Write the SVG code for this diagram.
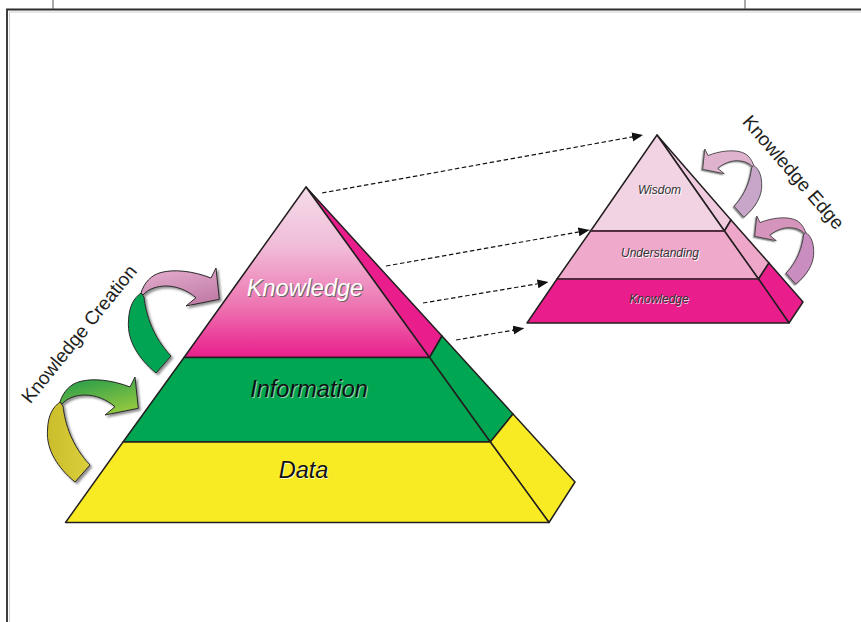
<svg xmlns="http://www.w3.org/2000/svg" width="861" height="622" viewBox="0 0 861 622">
  <style>
    .edge{stroke:#231f20;stroke-width:1.5;stroke-linejoin:round}
    .band{stroke:#5a2a44;stroke-width:1.5}
    .lbl{font-family:"Liberation Sans",Arial,Helvetica,sans-serif;font-style:italic;text-anchor:middle}
    .big{font-size:23.5px}
    .small{font-size:12px}
    .caption{font-family:"Liberation Sans",Arial,Helvetica,sans-serif;font-size:19px;fill:#231f20;text-anchor:middle}
    .dash{fill:none;stroke:#111;stroke-width:1.2;stroke-dasharray:4.5 2.6;marker-end:url(#ah)}
    .arcline{stroke:#2a2a2a;stroke-width:1;stroke-linejoin:round}
    .arcline-s{stroke:#3a3a3a;stroke-width:1.3;stroke-linejoin:round}
  </style>
  <defs>
    <marker id="ah" markerUnits="userSpaceOnUse" markerWidth="12" markerHeight="10" refX="11" refY="4.5" orient="auto">
      <path d="M0,0 L11,4.5 L0,9 Z" fill="#111"/>
    </marker>
    <linearGradient id="kGrad" x1="0" y1="0" x2="0" y2="1">
      <stop offset="0" stop-color="#f4dce9"/>
      <stop offset="0.35" stop-color="#f1bcd8"/>
      <stop offset="0.7" stop-color="#ed74b1"/>
      <stop offset="1" stop-color="#e91e8c"/>
    </linearGradient>
    <linearGradient id="greenHead" x1="0" y1="0" x2="0.5" y2="1">
      <stop offset="0" stop-color="#1b984a"/>
      <stop offset="1" stop-color="#8dc641"/>
    </linearGradient>
    <linearGradient id="pinkHead" x1="0" y1="0" x2="0.5" y2="1">
      <stop offset="0" stop-color="#e6b0d1"/>
      <stop offset="1" stop-color="#c47fa9"/>
    </linearGradient>
    <linearGradient id="oliveTail" x1="0" y1="0" x2="1" y2="0">
      <stop offset="0" stop-color="#cbbd2b"/>
      <stop offset="1" stop-color="#dacf3c"/>
    </linearGradient>
    <filter id="shade" x="-20%" y="-20%" width="150%" height="150%">
      <feDropShadow dx="2" dy="2" stdDeviation="1.2" flood-color="#444" flood-opacity="0.6"/>
    </filter>
    <!-- curved arrow: lower band and arcing head -->
    <path id="arcTail" d="M75,482 C58,468 46,450 47.5,430 C48,415 53,407 60,402 L63,406 C65,424 72,446 90,465 Z"/>
    <path id="arcHead" d="M60,402 C63,392 70,384 80,381.5 C93,378 112,380 130,387 L135,377 L138.3,408.3 L105,415 L115,406.7 C106,399 95,395 85,395 C76,395 67,398 62,404 Z"/>
  </defs>

  <!-- page frame -->
  <g id="frame" fill="none">
    <path d="M7,622 V9.5 H861" stroke="#2b2b2b" stroke-width="1.8"/>
    <path d="M9.5,622 V12 H861" stroke="#cfcfcf" stroke-width="1"/>
    <path d="M53,0 V9 M745,0 V9" stroke="#555" stroke-width="1"/>
  </g>

  <!-- large pyramid -->
  <g id="big-knowledge">
    <polygon class="edge" fill="#e91e8c" points="306,187 442,336 429.5,357.5"/>
    <polygon class="edge" fill="url(#kGrad)" points="306,187 429.5,357.5 184,357.5"/>
    <text class="lbl big" x="306" y="297" fill="#666">Knowledge</text>
    <text class="lbl big" x="305" y="296" fill="#ffffff">Knowledge</text>
  </g>
  <g id="big-information">
    <polygon class="edge" fill="#00a651" points="429.5,357.5 442,336 513,414 490.3,442"/>
    <polygon class="edge" fill="#00a651" points="184,357.5 429.5,357.5 490.3,442 123,442"/>
    <text class="lbl big" x="310" y="397.5" fill="#8fd3a8">Information</text>
    <text class="lbl big" x="309" y="396.5" fill="#111">Information</text>
  </g>
  <g id="big-data">
    <polygon class="edge" fill="#f8eb24" points="490.3,442 513,414 575,482 549,522.5"/>
    <polygon class="edge" fill="#f8eb24" points="123,442 490.3,442 549,522.5 65.5,522.5"/>
    <text class="lbl big" x="304.5" y="478.5" fill="#fffbd0">Data</text>
    <text class="lbl big" x="303.5" y="477.5" fill="#111">Data</text>
  </g>

  <!-- small pyramid -->
  <g id="small-wisdom">
    <polygon class="edge" fill="#f0cadf" points="657,135 731,220 724.4,231"/>
    <polygon class="edge" fill="#f2d3e3" points="657,135 724.4,231 590.6,231"/>
    <text class="lbl small" x="660.5" y="194.5" fill="#fff">Wisdom</text>
    <text class="lbl small" x="659.5" y="194" fill="#333">Wisdom</text>
  </g>
  <g id="small-understanding">
    <polygon class="edge" fill="#eea6c9" points="724.4,231 731,220 769,263 758.5,279"/>
    <polygon class="edge" fill="#efa9cb" points="590.6,231 724.4,231 758.5,279 557,279"/>
    <text class="lbl small" x="661" y="257.5" fill="#fff">Understanding</text>
    <text class="lbl small" x="660" y="257" fill="#333">Understanding</text>
  </g>
  <g id="small-knowledge">
    <polygon class="edge" fill="#e91e8c" points="758.5,279 769,263 803,302 789,323"/>
    <polygon class="edge" fill="#e91e8c" points="557,279 758.5,279 789,323 527,323"/>
    <text class="lbl small" x="660" y="303.5" fill="#f6c8df">Knowledge</text>
    <text class="lbl small" x="659" y="303" fill="#333">Knowledge</text>
  </g>
  <g id="small-bands" fill="none">
    <line class="band" x1="591.5" y1="231" x2="723.5" y2="231"/>
    <line class="band" x1="558" y1="279" x2="757.5" y2="279"/>
  </g>

  <!-- dashed connectors between the pyramids -->
  <g id="connectors">
    <line class="dash" x1="322" y1="193" x2="643" y2="135"/>
    <line class="dash" x1="386" y1="266" x2="589.5" y2="230"/>
    <line class="dash" x1="423" y1="303" x2="548.5" y2="282"/>
    <line class="dash" x1="456" y1="340" x2="524" y2="328.3"/>
  </g>

  <!-- knowledge creation arrows -->
  <g id="creation-arrow-lower" filter="url(#shade)">
    <use href="#arcTail" class="arcline" fill="url(#oliveTail)"/>
    <use href="#arcHead" class="arcline" fill="url(#greenHead)"/>
  </g>
  <g id="creation-arrow-upper" filter="url(#shade)" transform="translate(81,-109)">
    <use href="#arcTail" class="arcline" fill="#04a452"/>
    <use href="#arcHead" class="arcline" fill="url(#pinkHead)"/>
  </g>

  <!-- knowledge edge arrows (mirrored, smaller) -->
  <g id="edge-arrow-upper" filter="url(#shade)" transform="matrix(-0.65,0,0,0.65,792.55,-96.05)">
    <use href="#arcTail" class="arcline-s" fill="#c7a6c9"/>
    <use href="#arcHead" class="arcline-s" fill="#dfb2ce"/>
  </g>
  <g id="edge-arrow-lower" filter="url(#shade)" transform="matrix(-0.65,0,0,0.65,844.55,-29.05)">
    <use href="#arcTail" class="arcline-s" fill="#c98dbf"/>
    <use href="#arcHead" class="arcline-s" fill="#d594bb"/>
  </g>

  <!-- captions -->
  <g id="captions">
    <text class="caption" transform="translate(84,338) rotate(-51)">Knowledge Creation</text>
    <text class="caption" transform="translate(788.5,176.5) rotate(49)">Knowledge Edge</text>
  </g>
</svg>
